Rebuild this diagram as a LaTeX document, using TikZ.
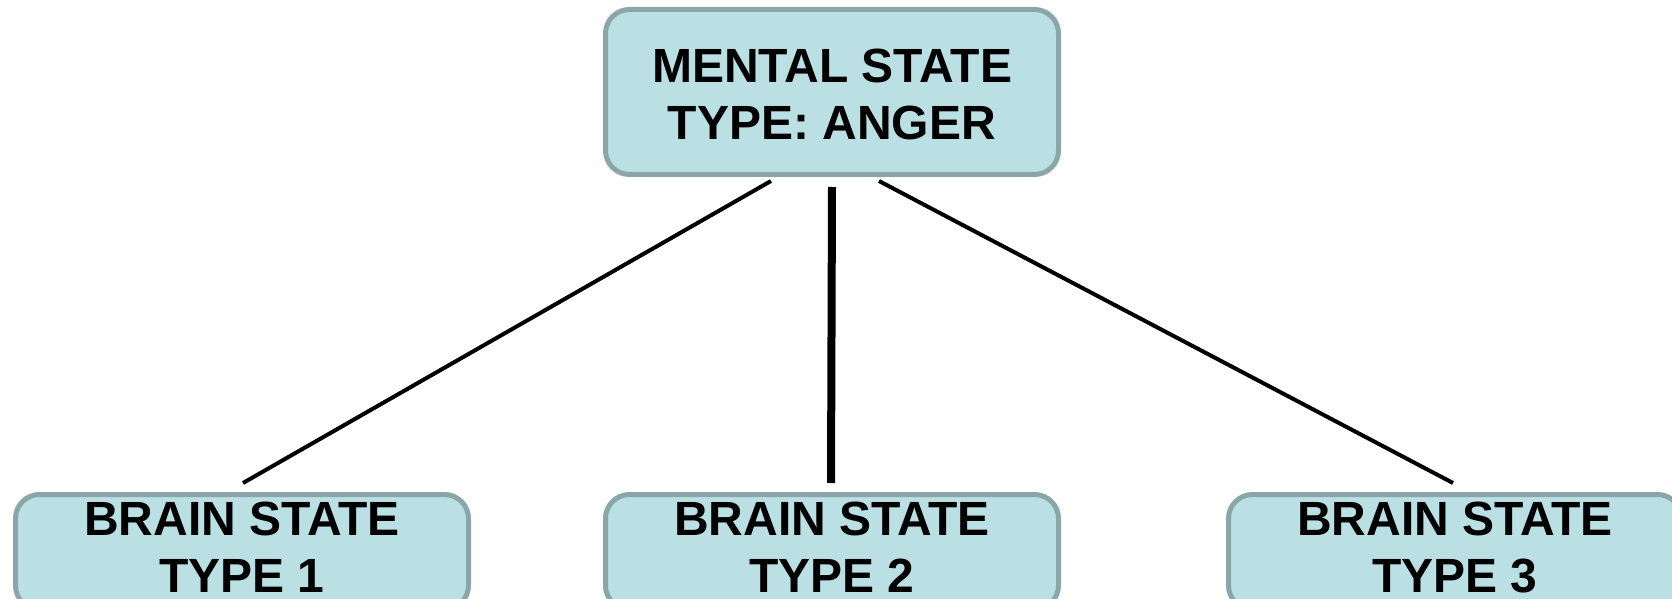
\documentclass[tikz,border=0pt]{standalone}
\usepackage{fontspec}
\setmainfont{Liberation Sans}
\definecolor{boxfill}{RGB}{187,224,228}
\definecolor{boxline}{RGB}{139,166,168}
\begin{document}
\begin{tikzpicture}[x=0.5pt,y=-0.5pt,
  statebox/.style={draw=boxline, fill=boxfill, line width=2.5pt, rounded corners=12pt,
    minimum width=226.5pt, inner sep=0pt, align=center,
    font=\fontsize{24}{28.5}\selectfont\bfseries},
  topbox/.style={statebox, minimum height=82.5pt, text height=48pt, text depth=0pt},
  lowbox/.style={statebox, minimum height=57.5pt, text height=45pt, text depth=5pt},
  link/.style={line width=2pt, black},
  trunk/.style={line width=4pt, black}]
\clip (0,0) rectangle (1672,599);
\node[topbox] (top) at (832,92) {MENTAL STATE\\TYPE: ANGER};
\node[lowbox] (b1) at (242,552) {BRAIN STATE\\TYPE 1};
\node[lowbox] (b2) at (832,552) {BRAIN STATE\\TYPE 2};
\node[lowbox] (b3) at (1455,552) {BRAIN STATE\\TYPE 3};
\draw[link] ([shift={(-61,4)}]top.south) -- ([shift={(1,-9)}]b1.north);
\draw[trunk] ([shift={(0,10)}]top.south) -- ([shift={(-1,-9)}]b2.north);
\draw[link] ([shift={(47,4)}]top.south) -- ([shift={(-2,-9)}]b3.north);
\end{tikzpicture}
\end{document}
